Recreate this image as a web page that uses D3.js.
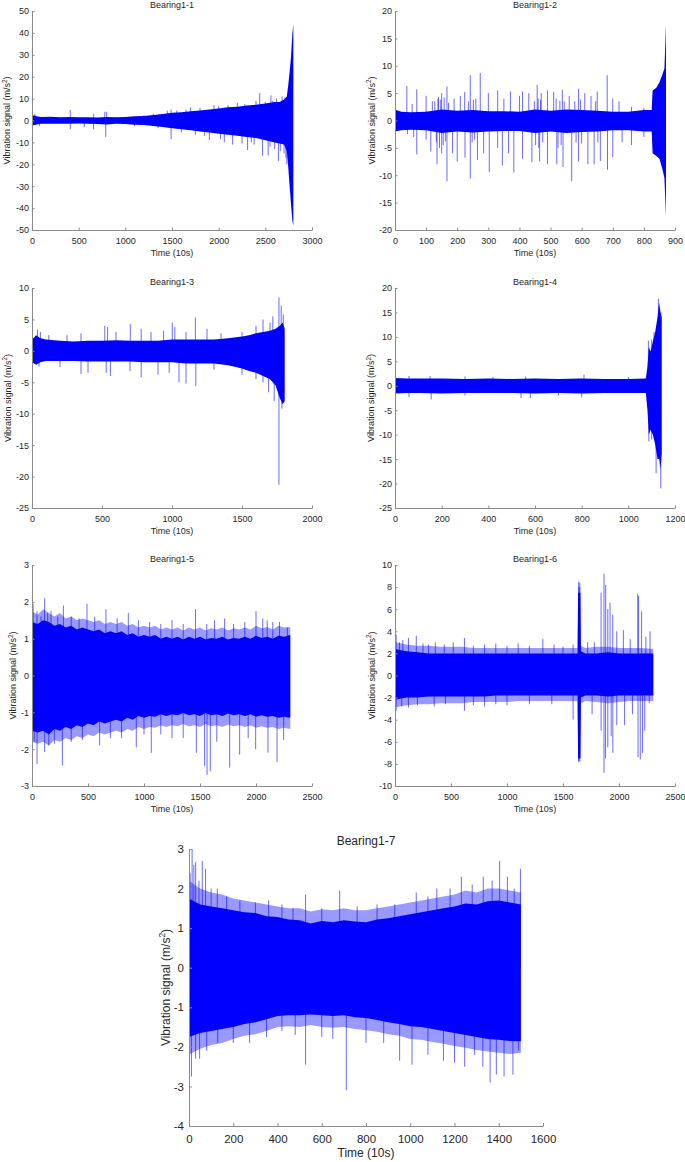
<!DOCTYPE html>
<html><head><meta charset="utf-8">
<script src="https://cdn.jsdelivr.net/npm/d3@7"></script>
<style>body{margin:0;background:#fff}svg{display:block}text{font-family:"Liberation Sans",Arial,sans-serif;fill:#262626}</style>
</head><body><svg id="c" width="685" height="1162"></svg>
<script>
// ---------- Bearing1-1 ----------
const b1Time  = [0,30,60,100,200,300,400,500,600,700,800,900,1000,1100,1200,1300,1400,1500,1600,1700,1800,1900,2000,2100,2200,2300,2400,2500,2600,2650,2700,2730,2745,2760,2775,2790,2800];
const b1Upper = [2.5,2.2,1.8,1.6,1.7,1.5,1.6,1.5,1.5,1.4,1.6,1.5,1.6,1.9,2.0,2.5,3.0,3.5,3.8,4.2,4.6,5.0,5.5,6.0,6.3,6.8,7.2,7.8,8.5,8.5,9.5,11,16,22,29,40,44];
const b1Lower = [-2.3,-2.0,-1.7,-1.5,-1.5,-1.5,-1.5,-1.4,-1.5,-1.6,-1.8,-1.5,-1.6,-1.9,-2.0,-2.5,-3.0,-3.5,-4.0,-4.5,-5.0,-5.5,-6.0,-6.5,-7.0,-7.5,-8.0,-9.0,-10,-10.5,-11,-14,-21,-30,-38,-46,-48];
const b1Spikes = [[30,3],[80,-2.5],[410,4.8],[410,-4],[560,-3],[660,3],[660,-4],[780,4],[790,-7.5],[800,4],[1100,-2.5],[1200,2.5],[1300,3],[1350,-3.5],[1450,4.5],[1490,5],[1490,-8.5],[1550,4.5],[1600,-5.5],[1650,5],[1700,6],[1750,-6.5],[1800,5.8],[1850,-7],[1900,-9],[1950,7],[2000,6.5],[2020,-8.5],[2060,-10],[2100,7],[2150,-11],[2200,8],[2250,-10.5],[2280,7.5],[2310,-13.5],[2350,-10],[2380,-11],[2400,9],[2440,12.5],[2470,-16],[2500,8.5],[2530,-16],[2550,-12],[2560,11.5],[2580,9],[2600,-13],[2620,10],[2640,-18.5],[2660,-14],[2680,11],[2690,9.5],[2700,-15],[2710,10.5],[2720,-17],[2730,-20]];
const b1XTicks = [0,500,1000,1500,2000,2500,3000];
const b1YTicks = [-50,-40,-30,-20,-10,0,10,20,30,40,50];

// ---------- Bearing1-2 ----------
const b2Time  = [0,20,50,100,150,200,250,300,350,400,450,500,550,600,650,700,750,800,825,828,840,850,860,866,871];
const b2Upper = [2.0,1.6,1.5,1.6,2.0,1.8,1.9,1.7,1.7,1.6,2.0,1.8,2.0,1.9,1.8,1.6,1.6,1.9,1.9,5.5,6.0,7.0,8.5,9.5,17.5];
const b2Lower = [-2.0,-1.8,-1.7,-1.8,-2.3,-2.0,-2.2,-2.0,-1.9,-1.9,-2.3,-2.0,-2.3,-2.1,-2.0,-1.8,-1.8,-2.0,-2.0,-6.0,-6.5,-7.0,-9.0,-10.5,-17.5];
const b2Spikes = [[38,6.3],[55,3],[70,5.7],[100,4.5],[120,3.5],[128,3.5],[138,4],[140,4.3],[147,3.8],[150,5.0],[158,4.2],[167,6.2],[172,3.2],[190,4],[210,4.5],[224,5.2],[236,3.5],[242,8.3],[252,3.8],[260,4],[274,8.7],[300,5.0],[330,5.5],[350,4],[371,5.3],[400,4.5],[410,5.3],[430,5.0],[448,3.5],[457,6.5],[460,4],[468,3.8],[470,5.0],[490,5.5],[510,5.2],[518,4],[530,3.6],[538,5.6],[544,3.5],[560,4.5],[578,3.5],[590,5.8],[596,3.8],[610,5.0],[630,4.5],[645,3.5],[650,5.3],[682,8.3],[700,4.0],[720,3.5],[760,2.5],[800,2.3],
  [40,-2.5],[60,-3.0],[70,-6.2],[100,-3.5],[115,-5.7],[133,-4],[135,-8.0],[143,-5],[150,-6],[155,-4.5],[162,-3.8],[167,-11.1],[185,-6],[200,-7.5],[225,-6.8],[242,-10.6],[248,-4],[256,-3.5],[265,-7.2],[285,-6],[303,-9.4],[330,-5.0],[345,-8.2],[365,-6],[382,-9.5],[410,-7.0],[440,-7.6],[452,-4.5],[462,-5],[465,-7.5],[475,-4],[490,-8.0],[520,-8.0],[524,-5],[534,-4.5],[540,-8.5],[568,-11.1],[582,-4],[590,-7.5],[600,-4.2],[620,-8.0],[640,-8.0],[652,-4],[660,-7.4],[683,-9.0],[700,-6.7],[730,-4],[760,-4.5],[800,-3.0]];
const b2XTicks = [0,100,200,300,400,500,600,700,800,900];
const b2YTicks = [-20,-15,-10,-5,0,5,10,15,20];

// ---------- Bearing1-3 ----------
const b3Time  = [0,30,60,100,200,300,400,500,600,700,800,900,1000,1100,1200,1300,1400,1500,1550,1600,1650,1700,1740,1770,1790,1805];
const b3Upper = [1.8,2.5,2.0,1.8,1.6,1.5,1.6,1.6,1.7,1.6,1.6,1.6,1.8,1.8,1.8,1.8,2.0,2.3,2.5,2.8,3.0,3.2,3.5,4.0,4.5,3.5];
const b3Lower = [-1.8,-2.2,-1.8,-1.6,-1.6,-1.6,-1.7,-1.7,-1.7,-1.7,-1.8,-1.8,-1.8,-2.0,-2.0,-2.0,-2.3,-2.8,-3.2,-3.5,-4.0,-4.5,-5.5,-7.5,-8.5,-8.0];
const b3Spikes = [[40,3.4],[60,3],[120,2.5],[250,2.5],[350,2.8],[520,4.0],[540,3.8],[600,3],[702,4.3],[780,3.5],[850,3],[940,3.2],[1002,4.5],[1020,3.8],[1100,3],[1167,5.3],[1250,3.5],[1350,2.8],[1500,3.0],[1600,4.0],[1650,5.0],[1700,4.5],[1720,5.5],[1764,8.5],[1780,7.2],[1795,5.8],
  [50,-2.5],[200,-2.6],[350,-3.7],[400,-3.5],[530,-3.5],[560,-4.0],[700,-3.2],[780,-4.2],[900,-3.8],[980,-3.5],[1050,-5.0],[1100,-5.2],[1170,-5.6],[1300,-3],[1500,-3.8],[1600,-4.5],[1650,-5],[1690,-6.6],[1730,-8.0],[1764,-21.3],[1785,-9.2]];
const b3XTicks = [0,500,1000,1500,2000];
const b3YTicks = [-25,-20,-15,-10,-5,0,5,10];

// ---------- Bearing1-4 ----------
const b4Time  = [0,50,100,200,300,400,500,600,700,800,900,1000,1075,1082,1088,1095,1105,1115,1125,1132,1138,1143];
const b4Upper = [1.6,1.5,1.5,1.5,1.4,1.5,1.4,1.5,1.4,1.5,1.4,1.4,1.5,4,8,7,9,11,14,17,15,14];
const b4Lower = [-1.6,-1.5,-1.5,-1.6,-1.5,-1.5,-1.5,-1.6,-1.5,-1.6,-1.5,-1.5,-1.5,-5,-10,-9,-10,-12,-15,-15,-17,-14];
const b4Spikes = [[60,2.0],[150,2.0],[300,1.9],[420,1.8],[560,1.9],[810,2.3],[1000,1.8],[1086,9.2],[1100,9.5],[1110,11],[1129,17.8],[1139,15],
  [60,-2.3],[155,-2.8],[300,-2],[540,-2.5],[580,-2.5],[700,-2],[800,-2.4],[1088,-11.4],[1100,-11],[1119,-17.9],[1139,-21]];
const b4XTicks = [0,200,400,600,800,1000,1200];
const b4YTicks = [-25,-20,-15,-10,-5,0,5,10,15,20];

// ---------- Bearing1-5 ----------
const b5Time  = [0,50,100,150,200,250,300,350,400,450,500,550,600,650,700,750,800,850,900,950,1000,1050,1100,1150,1200,1250,1300,1350,1400,1450,1500,1550,1600,1650,1700,1750,1800,1850,1900,1950,2000,2050,2100,2150,2200,2250,2306];
const b5Upper = [1.45,1.4,1.5,1.45,1.35,1.4,1.3,1.35,1.25,1.3,1.25,1.2,1.25,1.15,1.2,1.15,1.2,1.1,1.15,1.05,1.1,1.05,1.1,1.0,1.05,1.0,1.05,0.98,1.05,1.0,1.05,0.98,1.02,1.0,1.05,0.98,1.02,1.0,1.05,1.0,1.08,1.02,1.05,1.0,1.08,1.05,1.1];
const b5Lower = [-1.5,-1.55,-1.5,-1.6,-1.45,-1.5,-1.4,-1.45,-1.35,-1.4,-1.3,-1.35,-1.25,-1.3,-1.25,-1.2,-1.25,-1.15,-1.2,-1.1,-1.15,-1.1,-1.12,-1.05,-1.1,-1.05,-1.08,-1.02,-1.08,-1.05,-1.1,-1.02,-1.08,-1.05,-1.1,-1.03,-1.08,-1.05,-1.1,-1.05,-1.12,-1.08,-1.12,-1.1,-1.15,-1.12,-1.15];
const b5OuterUpper = [1.75,1.65,1.8,1.7,1.6,1.7,1.55,1.6,1.5,1.55,1.5,1.45,1.5,1.4,1.45,1.4,1.45,1.35,1.4,1.3,1.35,1.3,1.35,1.25,1.3,1.25,1.3,1.22,1.3,1.25,1.3,1.22,1.28,1.25,1.3,1.22,1.28,1.25,1.3,1.25,1.35,1.28,1.32,1.25,1.35,1.3,1.32];
const b5OuterLower = [-1.8,-1.85,-1.8,-1.9,-1.75,-1.8,-1.7,-1.75,-1.65,-1.7,-1.6,-1.65,-1.55,-1.6,-1.55,-1.5,-1.55,-1.45,-1.5,-1.4,-1.45,-1.4,-1.42,-1.35,-1.4,-1.35,-1.38,-1.32,-1.38,-1.35,-1.4,-1.32,-1.38,-1.35,-1.4,-1.33,-1.38,-1.35,-1.4,-1.35,-1.42,-1.38,-1.42,-1.4,-1.45,-1.42,-1.45];
const b5Spikes = [[10,1.95],[45,1.75],[80,1.6],[113,2.1],[140,1.7],[170,1.75],[230,1.6],[280,1.9],[350,1.6],[420,1.55],[491,1.95],[560,1.6],[660,1.8],[760,1.55],[860,1.7],[950,1.5],[1050,1.45],[1150,1.4],[1250,1.5],[1350,1.4],[1460,1.8],[1560,1.4],[1630,1.5],[1720,1.55],[1800,1.4],[1900,1.45],[2000,1.75],[2060,1.55],[2100,1.5],[2150,1.45],[2210,1.45],[2280,1.3],
  [20,-1.8],[45,-2.4],[113,-2.08],[150,-1.9],[200,-1.85],[271,-2.44],[350,-1.8],[450,-1.75],[604,-1.9],[700,-1.7],[800,-1.7],[931,-1.95],[1000,-1.6],[1065,-2.1],[1150,-1.6],[1250,-1.7],[1350,-1.7],[1467,-2.1],[1541,-2.45],[1563,-2.7],[1592,-2.6],[1650,-1.8],[1765,-2.5],[1854,-2.15],[1930,-1.7],[1997,-2.0],[2107,-2.1],[2188,-2.35],[2247,-1.75]];
const b5XTicks = [0,500,1000,1500,2000,2500];
const b5YTicks = [-3,-2,-1,0,1,2,3];

// ---------- Bearing1-6 ----------
const b6Time  = [0,100,200,300,400,500,600,700,800,900,1000,1100,1200,1300,1400,1500,1600,1630,1635,1655,1660,1700,1800,1900,2000,2100,2200,2306];
const b6Upper = [2.4,2.2,2.1,2.0,2.0,2.0,2.0,2.0,2.0,2.0,2.0,2.0,2.0,2.0,2.0,2.0,2.0,2.0,7.5,7.5,2.2,2.0,2.0,2.1,2.0,2.0,2.0,2.0];
const b6Lower = [-2.2,-2.0,-2.0,-1.9,-1.9,-1.9,-1.9,-1.9,-1.9,-1.8,-1.8,-1.8,-1.8,-1.8,-1.8,-1.8,-1.8,-1.8,-7.5,-7.5,-2.0,-1.8,-1.8,-1.9,-1.8,-1.8,-1.8,-1.8];
const b6OuterUpper = [3.0,2.8,2.7,2.7,2.6,2.6,2.6,2.5,2.5,2.5,2.5,2.5,2.5,2.5,2.5,2.5,2.5,2.5,8.0,8.0,2.7,2.5,2.6,2.6,2.5,2.5,2.5,2.4];
const b6OuterLower = [-2.9,-2.7,-2.6,-2.6,-2.5,-2.5,-2.5,-2.4,-2.4,-2.4,-2.4,-2.3,-2.3,-2.3,-2.3,-2.3,-2.3,-2.3,-7.8,-7.8,-2.5,-2.3,-2.4,-2.5,-2.4,-2.3,-2.3,-2.3];
const b6Spikes = [[10,3.7],[40,3.0],[70,3.2],[120,3.4],[190,3.6],[250,2.9],[300,2.8],[360,3.0],[440,2.8],[520,3.0],[620,3.4],[700,2.7],[800,2.8],[900,2.9],[1000,2.7],[1100,2.9],[1200,2.7],[1320,3.3],[1420,2.8],[1500,2.6],[1590,2.8],[1640,8.5],[1650,8.4],[1720,3.0],[1780,3.0],[1840,7.5],[1866,9.2],[1881,8.2],[1900,6.0],[1920,6.6],[1944,5.5],[1980,4.0],[2039,4.1],[2100,3.3],[2167,7.4],[2175,7.2],[2202,5.8],[2240,3.5],[2277,4.0],
  [10,-3.2],[60,-2.8],[120,-2.9],[200,-2.7],[350,-2.8],[450,-2.6],[620,-3.2],[700,-2.7],[800,-2.8],[900,-2.6],[1000,-2.7],[1200,-2.6],[1400,-2.6],[1590,-4.0],[1640,-7.8],[1650,-7.5],[1760,-3.5],[1840,-5.0],[1866,-8.8],[1880,-7.5],[1900,-6.5],[1930,-5.5],[1945,-7.0],[1980,-4.5],[2050,-4.5],[2120,-3.5],[2170,-7.4],[2190,-7.6],[2210,-7.0],[2230,-5.0],[2270,-2.5]];
const b6XTicks = [0,500,1000,1500,2000,2500];
const b6YTicks = [-10,-8,-6,-4,-2,0,2,4,6,8,10];

// ---------- Bearing1-7 ----------
const b7Time  = [0,50,100,150,200,250,300,350,400,450,500,550,600,650,700,750,800,850,900,950,1000,1050,1100,1150,1200,1250,1300,1350,1400,1450,1500];
const b7Upper = [1.75,1.6,1.55,1.5,1.45,1.4,1.38,1.3,1.28,1.22,1.2,1.12,1.18,1.15,1.2,1.17,1.15,1.22,1.25,1.3,1.35,1.4,1.45,1.5,1.55,1.62,1.6,1.68,1.7,1.65,1.6];
const b7Lower = [-1.75,-1.65,-1.6,-1.55,-1.5,-1.42,-1.38,-1.3,-1.22,-1.2,-1.2,-1.18,-1.2,-1.22,-1.2,-1.25,-1.27,-1.32,-1.38,-1.42,-1.48,-1.5,-1.55,-1.6,-1.65,-1.7,-1.75,-1.8,-1.82,-1.85,-1.86];
const b7OuterUpper = [2.2,2.0,1.9,1.85,1.75,1.7,1.65,1.6,1.55,1.5,1.5,1.42,1.48,1.45,1.5,1.45,1.45,1.5,1.55,1.6,1.65,1.7,1.75,1.8,1.85,1.95,1.9,2.0,2.0,1.95,1.9];
const b7OuterLower = [-2.2,-2.05,-1.95,-1.9,-1.8,-1.72,-1.68,-1.6,-1.5,-1.48,-1.5,-1.45,-1.5,-1.52,-1.5,-1.55,-1.58,-1.62,-1.68,-1.72,-1.8,-1.82,-1.88,-1.92,-1.98,-2.02,-2.08,-2.12,-2.15,-2.18,-2.15];
const b7Spikes = [[5,2.4],[14,3.0],[22,2.6],[30,2.67],[45,2.2],[60,2.7],[75,2.5],[100,2.0],[128,2.0],[170,1.8],[230,1.7],[300,1.65],[360,1.7],[420,1.6],[470,1.5],[527,1.85],[600,1.5],[681,1.95],[760,1.55],[850,1.6],[930,1.6],[1027,1.9],[1080,1.8],[1120,2.0],[1180,2.0],[1231,2.3],[1280,2.1],[1330,2.3],[1370,2.2],[1404,2.7],[1439,2.3],[1470,2.0],[1498,2.5],
  [11,-2.75],[30,-2.3],[48,-2.3],[80,-2.1],[130,-1.9],[200,-1.9],[274,-1.9],[350,-1.75],[420,-1.6],[480,-1.7],[527,-2.45],[600,-1.75],[650,-1.8],[711,-3.1],[800,-1.9],[880,-1.9],[952,-2.35],[1008,-2.45],[1080,-2.2],[1150,-2.35],[1200,-2.4],[1246,-2.5],[1290,-2.2],[1328,-2.5],[1361,-2.9],[1389,-2.7],[1424,-2.75],[1464,-2.7],[1490,-2.1]];
const b7XTicks = [0,200,400,600,800,1000,1200,1400,1600];
const b7YTicks = [-4,-3,-2,-1,0,1,2,3];

const titles = ["Bearing1-1","Bearing1-2","Bearing1-3","Bearing1-4","Bearing1-5","Bearing1-6","Bearing1-7"];
const xLabel = "Time (10s)";

// ---------- layout (pixels) ----------
const small = {fs:9, lfs:9, tickLen:2.5, xPad:8, yPad:3, titleOff:3, xLabOff:26};
const big   = {fs:11.5, lfs:12, tickLen:3, xPad:9, yPad:5, titleOff:4, xLabOff:31};
const panels = [
  {i:0, time:b1Time, up:b1Upper, lo:b1Lower, spikes:b1Spikes, xt:b1XTicks, yt:b1YTicks, box:[32,11,312,230], ylx:7.3, st:small},
  {i:1, time:b2Time, up:b2Upper, lo:b2Lower, spikes:b2Spikes, xt:b2XTicks, yt:b2YTicks, box:[395,11,675,230], ylx:371.7, st:small},
  {i:2, time:b3Time, up:b3Upper, lo:b3Lower, spikes:b3Spikes, xt:b3XTicks, yt:b3YTicks, box:[32,288,312,508], ylx:7.7, st:small},
  {i:3, time:b4Time, up:b4Upper, lo:b4Lower, spikes:b4Spikes, xt:b4XTicks, yt:b4YTicks, box:[395,288,675,508], ylx:371.3, st:small},
  {i:4, time:b5Time, up:b5Upper, lo:b5Lower, oup:b5OuterUpper, olo:b5OuterLower, spikes:b5Spikes, xt:b5XTicks, yt:b5YTicks, box:[32,565,312,786], ylx:13.3, st:small},
  {i:5, time:b6Time, up:b6Upper, lo:b6Lower, oup:b6OuterUpper, olo:b6OuterLower, spikes:b6Spikes, xt:b6XTicks, yt:b6YTicks, box:[395,565,675,786], ylx:371.7, st:small},
  {i:6, time:b7Time, up:b7Upper, lo:b7Lower, oup:b7OuterUpper, olo:b7OuterLower, spikes:b7Spikes, xt:b7XTicks, yt:b7YTicks, box:[189,849,543,1126], ylx:165.3, st:big}
];

const svg = d3.select("#c");
const BLUE = "#0000ff";
const fmt = d => String(d);

panels.forEach(p => {
  const [x0,y0,x1,y1] = p.box, st = p.st;
  const x = d3.scaleLinear().domain([p.xt[0], p.xt[p.xt.length-1]]).range([x0,x1]);
  const y = d3.scaleLinear().domain([p.yt[0], p.yt[p.yt.length-1]]).range([y1,y0]);
  const g = svg.append("g");

  const rows = p.time.map((t,k) => ({t, hi:p.up[k], lo:p.lo[k], ohi:p.oup ? p.oup[k] : null, olo:p.olo ? p.olo[k] : null}));
  if (p.oup) {
    g.append("path").datum(rows)
      .attr("d", d3.area().x(d=>x(d.t)).y0(d=>y(d.olo)).y1(d=>y(d.ohi)))
      .attr("fill", BLUE).attr("fill-opacity", 0.4);
  }
  g.append("g").selectAll("line").data(p.spikes).join("line")
    .attr("x1", d=>x(d[0])).attr("x2", d=>x(d[0]))
    .attr("y1", y(0)).attr("y2", d=>y(d[1]))
    .attr("stroke", BLUE).attr("stroke-width", 0.9).attr("stroke-opacity", 0.65);
  g.append("path").datum(rows)
    .attr("d", d3.area().x(d=>x(d.t)).y0(d=>y(d.lo)).y1(d=>y(d.hi)))
    .attr("fill", BLUE);

  // axes
  const ax = g.append("g").attr("transform", `translate(0,${y1})`)
    .call(d3.axisBottom(x).tickValues(p.xt).tickFormat(fmt).tickSizeInner(-st.tickLen).tickSizeOuter(0).tickPadding(st.xPad));
  const ay = g.append("g").attr("transform", `translate(${x0},0)`)
    .call(d3.axisLeft(y).tickValues(p.yt).tickFormat(fmt).tickSizeInner(-st.tickLen).tickSizeOuter(0).tickPadding(st.yPad));
  [ax, ay].forEach(a => {
    a.select(".domain").attr("stroke", "#8a8a8a").attr("stroke-width", 1);
    a.selectAll(".tick line").attr("stroke", "#8a8a8a");
    a.selectAll(".tick text").attr("font-size", st.fs).attr("fill", "#262626").attr("font-family", '"Liberation Sans", Arial, sans-serif');
  });

  g.append("text").attr("x", (x0+x1)/2).attr("y", y0 - st.titleOff)
    .attr("text-anchor", "middle").attr("font-size", st.lfs).text(titles[p.i]);
  g.append("text").attr("x", (x0+x1)/2).attr("y", y1 + st.xLabOff)
    .attr("text-anchor", "middle").attr("font-size", st.lfs).text(xLabel);
  const yl = g.append("text").attr("transform", `translate(${p.ylx},${(y0+y1)/2}) rotate(-90)`)
    .attr("text-anchor", "middle").attr("dy", "0.35em").attr("font-size", st.lfs);
  yl.append("tspan").text("Vibration signal (m/s");
  yl.append("tspan").attr("font-size", st.lfs*0.7).attr("dy", -st.lfs*0.4).text("2");
  yl.append("tspan").attr("dy", st.lfs*0.4).text(")");
});
</script></body></html>
